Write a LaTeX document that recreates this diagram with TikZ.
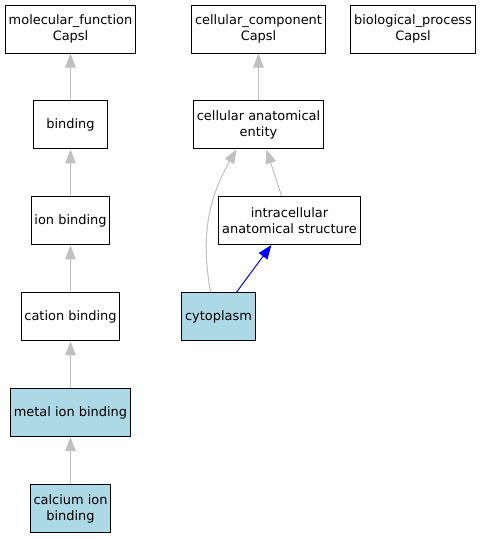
\documentclass[tikz,border=0pt]{standalone}
\usepackage{fontspec}
\setmainfont{DejaVu Sans}
\usepackage{tikz}
\usetikzlibrary{positioning,arrows.meta}
\definecolor{gonodeblue}{HTML}{ADD8E6}
\definecolor{goedgegrey}{HTML}{C0C0C0}

\begin{document}
\begin{tikzpicture}[x=0.75pt,y=-0.75pt,
  term/.style={draw=black,line width=0.75pt,fill=white,minimum height=36pt,minimum width=55pt,inner xsep=2.5pt,inner ysep=1pt,align=center,font=\fontsize{9.7}{11.8}\selectfont},
  hit/.style={term,fill=gonodeblue},
  arr/.style={-{Triangle[length=10.5pt,width=8pt]},goedgegrey,line width=0.75pt},
  arrb/.style={-{Triangle[length=10.5pt,width=8pt]},blue,line width=0.75pt},
  node distance=35.2pt
]
\useasboundingbox (0,0) rectangle (481,539);
\node[term] (molf) at (70.5,29) {molecular\_function\\Capsl};
\node[term,below=of molf] (bind) {binding};
\node[term,below=of bind] (ionb) {ion binding};
\node[term,below=of ionb] (catb) {cation binding};
\node[hit,below=of catb] (metb) {metal ion binding};
\node[hit,below=of metb] (calb) {calcium ion\\binding};
\node[term] (cellc) at (258.5,29) {cellular\_component\\Capsl};
\node[term] (biop) at (413,29) {biological\_process\\Capsl};
\node[term,below=of cellc] (cae) {cellular anatomical\\entity};
\node[term] (ias) at (289.5,220.5) {intracellular\\anatomical structure};
\node[hit] (cyto) at (218.5,316.5) {cytoplasm};

\draw[arr] (bind) -- (molf);
\draw[arr] (ionb) -- (bind);
\draw[arr] (catb) -- (ionb);
\draw[arr] (metb) -- (catb);
\draw[arr] (calb) -- (metb);
\draw[arr] (cae) -- (cellc);
\draw[arr] (ias) -- (cae);
\draw[arr] ([xshift=-6pt]cyto.north) to[out=100,in=-120] ([xshift=-16.5pt]cae.south);
\draw[arrb] (cyto) -- (ias);
\end{tikzpicture}
\end{document}
